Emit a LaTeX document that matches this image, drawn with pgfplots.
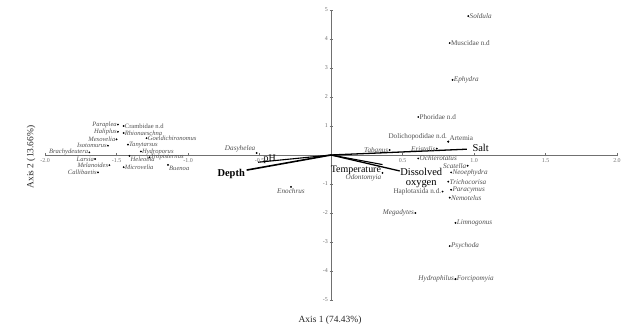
\documentclass[border=0pt]{standalone}
\usepackage{pgfplots}
\pgfplotsset{compat=1.18}
\usepackage{fontspec}
\setmainfont{Liberation Serif}
\definecolor{lab}{HTML}{505050}
\definecolor{axc}{HTML}{707070}
\pgfplotsset{
  sp/.style={only marks, mark=*, mark size=0.7pt, black,
    point meta=explicit symbolic, nodes near coords,
    nodes near coords style={anchor=#1, font=\fontsize{7.2}{8}\selectfont, text=lab, inner sep=1.2pt}},
  spl/.style={only marks, mark=*, mark size=0.7pt, black,
    point meta=explicit symbolic, nodes near coords,
    nodes near coords style={anchor=#1, font=\fontsize{6.6}{7}\selectfont, text=lab, inner sep=1pt}},
}

\begin{document}
\begin{tikzpicture}
\begin{axis}[
  x=143bp, y=29bp,
  xmin=-2, xmax=2, ymin=-5, ymax=5,
  axis lines=middle,
  axis line style={axc, -, line width=0.6pt},
  clip=false,
  xtick={-2,-1.5,-1,-0.5,0.5,1,1.5,2},
  ytick={-5,-4,-3,-2,-1,1,2,3,4,5},
  tick style={axc, line width=0.5pt},
  major tick length=3bp,
  /pgf/number format/assume math mode=true,
  ticklabel style={font=\fontsize{6}{6}\selectfont, text=axc},
  xticklabel style={inner sep=2pt, /pgf/number format/.cd, fixed, fixed zerofill, precision=1},
  yticklabel style={inner sep=1.5pt},
]
% species scores (right side), grouped by label position
\addplot[sp=west] table[col sep=comma, meta=label] {
x,y,label
0.96,4.79,\textit{Soldula}
0.83,3.86,Muscidae n.d
0.85,2.59,\textit{Ephydra}
0.61,1.31,Phoridae n.d
0.61,-0.12,\textit{Ochlerotatus}
0.84,-0.60,\textit{Neoephydra}
0.82,-0.92,\textit{Trichocorisa}
0.84,-1.20,\textit{Paracymus}
0.83,-1.47,\textit{Nemotelus}
0.87,-2.34,\textit{Limnogonus}
0.83,-3.14,\textit{Psychoda}
0.87,-4.28,\textit{Forcipomyia}
};
\addplot[sp=east] table[col sep=comma, meta=label] {
x,y,label
0.955,-0.37,\textit{Scatella}
0.74,0.22,\textit{Eristalis}
0.41,0.17,\textit{Tabanus}
0.78,-1.26,Haplotaxida n.d.
0.59,-2.00,\textit{Megadytes}
0.87,-4.28,\textit{Hydrophilus}
};
\addplot[sp=south west] table[col sep=comma, meta=label] {
x,y,label
0.82,0.46,Artemia
};
\addplot[sp=south east] table[col sep=comma, meta=label] {
x,y,label
0.82,0.46,Dolichopodidae n.d.
-0.52,0.07,\textit{Dasyhelea}
};
\addplot[sp=north east] table[col sep=comma, meta=label] {
x,y,label
0.36,-0.62,\textit{Odontomyia}
};
\addplot[sp=north] table[col sep=comma, meta=label] {
x,y,label
-0.28,-1.10,\textit{Enochrus}
};
% species scores (left cluster)
\addplot[spl=west] table[col sep=comma, meta=label] {
x,y,label
-1.45,1.00,Crambidae n.d
-1.45,0.76,\textit{Rhionaeschna}
-1.29,0.58,\textit{Goeldichironomus}
-1.42,0.36,\textit{Tanytarsus}
-1.33,0.12,\textit{Hydroporus}
-1.27,-0.08,\textit{Tropisternus}
-1.45,-0.42,\textit{Microvelia}
};
\addplot[spl=east] table[col sep=comma, meta=label] {
x,y,label
-1.49,1.05,\textit{Paraplea}
-1.49,0.80,\textit{Haliplus}
-1.50,0.54,\textit{Mesovelia}
-1.56,0.32,\textit{Isotomurus}
-1.69,0.09,\textit{Brachydeutera}
-1.65,-0.14,\textit{Larsia}
-1.55,-0.35,\textit{Melanoides}
-1.63,-0.60,\textit{Callibaetis}
};
\addplot[spl=north west] table[col sep=comma, meta=label] {
x,y,label
-1.41,-0.03,\textit{Heleobia}
-1.14,-0.34,\textit{Buenoa}
};

% environmental vectors
\addplot[black, line width=1.6pt] coordinates {(0,0) (-0.59,-0.52)}
  node[pos=1, anchor=north east, inner sep=1pt, yshift=3bp, font=\fontsize{10.5}{11}\selectfont\bfseries] {Depth};
\addplot[black, line width=1.1pt] coordinates {(0,0) (-0.51,-0.25)}
  node[pos=1, anchor=west, inner sep=1pt, xshift=4bp, yshift=2.5bp, font=\fontsize{10}{11}\selectfont] {pH};
\addplot[black, line width=1.3pt] coordinates {(0,0) (0.95,0.20)}
  node[pos=1, anchor=west, inner sep=1pt, xshift=4bp, yshift=1bp, font=\fontsize{10.5}{11}\selectfont] {Salt};
\addplot[black, line width=1.3pt] coordinates {(0,0) (0.48,-0.55)}
  node[pos=1, anchor=north west, inner sep=0pt, yshift=3bp, align=center, font=\fontsize{10.5}{10}\selectfont] {Dissolved\\oxygen};
\addplot[black, line width=1.1pt] coordinates {(0,0) (0.36,-0.33)}
  node[pos=1, anchor=north east, inner sep=1pt, font=\fontsize{10}{11}\selectfont] {Temperature};

% axis titles
\node[font=\fontsize{9.5}{10}\selectfont, text=black!85] at (axis cs:-0.007,-5.69) {Axis 1 (74.43\%)};
\node[font=\fontsize{9.5}{10}\selectfont, text=black!85, rotate=90] at (axis cs:-2.098,-0.07) {Axis 2 (13.66\%)};

\coordinate (bl) at (axis cs:-2.315,-6.103);
\coordinate (tr) at (axis cs:2.049,5.345);
\end{axis}
\pgfresetboundingbox
\path[use as bounding box] (bl) rectangle (tr);
\end{tikzpicture}
\end{document}
